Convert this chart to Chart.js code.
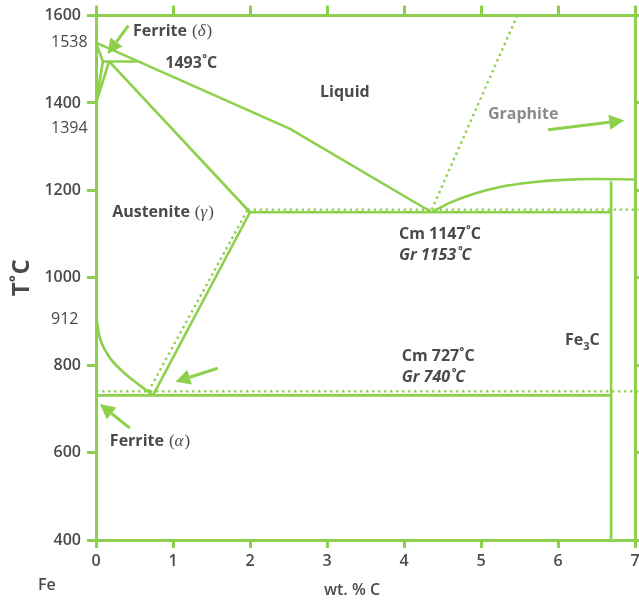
<!DOCTYPE html>
<html><head><meta charset="utf-8">
<script src="https://cdn.jsdelivr.net/npm/chart.js@4/dist/chart.umd.min.js"></script>
<style>html,body{margin:0;padding:0;background:#fff;} #wrap{width:639px;height:604px;position:relative;}</style>
</head><body><div id="wrap"><canvas id="c" width="639" height="604"></canvas></div>
<script>
const GREEN = 'rgb(141,208,76)';
const TXT = '#4a4a4a';
const GREYTXT = '#8a8a8a';

// axis ticks
const tempTicks = [400, 600, 800, 1000, 1200, 1400, 1600];
const carbonTicks = [0, 1, 2, 3, 4, 5, 6, 7];
// extra temperature labels (text, vertical position in °C)
const extraTempText = ['1538', '1394', '912'];
const extraTempPos = [1538, 1342, 905];

// ---- solid phase boundaries (wt.% C, °C) ----
const liquidusC = [0, 2.52, 4.36];
const liquidusT = [1538, 1341, 1150];
const peritecticC = [0.09, 0.53];
const peritecticT = [1495, 1495];
const deltaTopC = [0, 0.09];
const deltaTopT = [1538, 1495];
const deltaLeftC = [0, 0.09];
const deltaLeftT = [1400, 1495];
const deltaRightC = [0, 0.17];
const deltaRightT = [1400, 1495];
const solidusC = [0.17, 2.0];
const solidusT = [1495, 1150];
const eutecticC = [2.0, 6.69];
const eutecticT = [1150, 1150];
const cementiteC = [6.69, 6.69];
const cementiteT = [1221, 400];
const cmLiquidusC = [4.36, 4.6, 4.9, 5.25, 5.64, 6.06, 6.51, 7.0];
const cmLiquidusT = [1150, 1172, 1192, 1208, 1218, 1224, 1226, 1225];
const eutectoidC = [0, 6.69];
const eutectoidT = [731, 731];
const a3C = [0, 0.04, 0.15, 0.35, 0.56, 0.74];
const a3T = [915, 870, 825, 785, 755, 731];
const acmC = [0.74, 2.0];
const acmT = [731, 1150];

// ---- dotted (graphite system) boundaries ----
const grEutecticC = [1.97, 7.05];
const grEutecticT = [1156, 1156];
const grEutectoidC = [0, 7.05];
const grEutectoidT = [740, 740];
const grAcmC = [0.68, 1.97];
const grAcmT = [740, 1156];
const grLiquidusC = [4.36, 5.47];
const grLiquidusT = [1156, 1600];

// ---- arrows (from -> to, in data coords) ----
const arrowFromC = [0.42, 5.87, 1.58, 0.44];
const arrowFromT = [1577, 1339, 793, 656];
const arrowToC = [0.15, 6.86, 1.03, 0.05];
const arrowToT = [1512, 1360, 762, 711];

const zip = (xs, ys) => xs.map((x, i) => ({x: x, y: ys[i]}));

function solid(xs, ys, extra) {
  return Object.assign({data: zip(xs, ys), showLine: true, borderColor: GREEN, borderWidth: 2.6,
    pointRadius: 0, fill: false, tension: 0}, extra || {});
}
function dotted(xs, ys) {
  return {data: zip(xs, ys), showLine: true, borderColor: GREEN, borderWidth: 2.4,
    borderDash: [2.4, 3.6], pointRadius: 0, fill: false, tension: 0,
    clip: {left: 0, top: 0, right: 6, bottom: 0}};
}

const datasets = [
  solid(liquidusC, liquidusT),
  solid(peritecticC, peritecticT),
  solid(deltaTopC, deltaTopT),
  solid(deltaLeftC, deltaLeftT),
  solid(deltaRightC, deltaRightT),
  solid(solidusC, solidusT),
  solid(eutecticC, eutecticT),
  solid(cementiteC, cementiteT),
  solid(cmLiquidusC, cmLiquidusT, {cubicInterpolationMode: 'monotone'}),
  solid(eutectoidC, eutectoidT),
  solid(a3C, a3T, {cubicInterpolationMode: 'monotone'}),
  solid(acmC, acmT),
  dotted(grEutecticC, grEutecticT),
  dotted(grEutectoidC, grEutectoidT),
  dotted(grAcmC, grAcmT),
  dotted(grLiquidusC, grLiquidusT)
];

// ---- text labels ----
const FONT = "'Open Sans', 'DejaVu Sans', sans-serif";
const SERIF = "'Liberation Serif', 'DejaVu Serif', serif";

const annotPlugin = {
  id: 'annot',
  afterDatasetsDraw(chart) {
    const ctx = chart.ctx;
    const sx = chart.scales.x, sy = chart.scales.y;
    const X = v => sx.getPixelForValue(v), Y = v => sy.getPixelForValue(v);
    ctx.save();
    ctx.textBaseline = 'middle';
    function t(str, x, y, font, color, align) {
      ctx.font = font; ctx.fillStyle = color || TXT; ctx.textAlign = align || 'left';
      ctx.fillText(str, x, y);
      return ctx.measureText(str).width;
    }
    const B16 = '700 16px ' + FONT;
    function phase(name, greek, c, T) {
      let x = X(c), y = Y(T);
      x += t(name, x, y, B16) + 5;
      x += t('(', x, y, '400 17px ' + SERIF);
      x += t(greek, x, y, 'italic 400 17px ' + SERIF) + 1;
      t(')', x, y, '400 17px ' + SERIF);
    }
    phase('Ferrite', 'δ', 0.48, 1563);
    phase('Austenite', 'γ', 0.21, 1150);
    phase('Ferrite', 'α', 0.18, 626);
    t('1493˚C', X(0.90), Y(1490), B16);
    t('Liquid', X(2.91), Y(1424), B16);
    t('Graphite', X(5.09), Y(1374), B16, GREYTXT);
    t('Cm 1147˚C', X(3.935), Y(1099), B16);
    t('Gr 1153˚C', X(3.935), Y(1051), 'italic ' + B16);
    t('Cm 727˚C', X(3.97), Y(821), B16);
    t('Gr 740˚C', X(3.97), Y(773), 'italic ' + B16);
    // Fe3C
    let fx = X(6.09), fy = Y(857);
    fx += t('Fe', fx, fy, B16);
    fx += t('3', fx, fy + 7, '700 11px ' + FONT);
    t('C', fx, fy, B16);

    // x tick labels (drawn at the scale's tick positions)
    for (const v of carbonTicks) {
      t(String(v), X(v), sx.top + 21, '600 16px ' + FONT, TXT, 'center');
    }
    // extra temperature labels
    for (let i = 0; i < extraTempText.length; i++) {
      t(extraTempText[i], sx.left - 45, Y(extraTempPos[i]), '400 16px ' + FONT, TXT, 'left');
    }
    // axis titles
    t('Fe', 38, 585, '600 16px ' + FONT);
    t('wt. % C', 352, 590, '600 16px ' + FONT, TXT, 'center');
    ctx.save();
    ctx.translate(22, (chart.chartArea.top + chart.chartArea.bottom) / 2);
    ctx.rotate(-Math.PI / 2);
    t('T˚C', 0, 0, '700 24px ' + FONT, TXT, 'center');
    ctx.restore();

    // arrows
    ctx.strokeStyle = GREEN; ctx.fillStyle = GREEN; ctx.lineWidth = 3;
    for (let i = 0; i < arrowFromC.length; i++) {
      const x1 = X(arrowFromC[i]), y1 = Y(arrowFromT[i]);
      const x2 = X(arrowToC[i]), y2 = Y(arrowToT[i]);
      const a = Math.atan2(y2 - y1, x2 - x1);
      const L = 15, W = 7.5;
      const bx = x2 - L * Math.cos(a), by = y2 - L * Math.sin(a);
      ctx.beginPath(); ctx.moveTo(x1, y1); ctx.lineTo(bx, by); ctx.stroke();
      ctx.beginPath();
      ctx.moveTo(x2, y2);
      ctx.lineTo(bx + W * Math.sin(a), by - W * Math.cos(a));
      ctx.lineTo(bx - W * Math.sin(a), by + W * Math.cos(a));
      ctx.closePath(); ctx.fill();
    }
    ctx.restore();
  }
};

const gridOpt = len => ({drawOnChartArea: false, color: GREEN, lineWidth: 3, tickLength: len});
const borderOpt = {display: true, color: GREEN, width: 3};
const tickFont = {family: FONT, size: 16, weight: '600'};

new Chart(document.getElementById('c'), {
  type: 'scatter',
  data: {datasets: datasets},
  options: {
    responsive: false, animation: false, devicePixelRatio: 1,
    layout: {padding: 0},
    plugins: {legend: {display: false}, tooltip: {enabled: false}},
    scales: {
      x: {type: 'linear', position: 'bottom', min: 0, max: 7,
        afterBuildTicks: s => { s.ticks = carbonTicks.map(v => ({value: v})); },
        ticks: {display: false},
        grid: gridOpt(8), border: borderOpt,
        afterFit: s => { s.height = 64; }},
      xTop: {type: 'linear', position: 'top', min: 0, max: 7,
        afterBuildTicks: s => { s.ticks = carbonTicks.map(v => ({value: v})); },
        ticks: {display: false},
        grid: gridOpt(10), border: borderOpt,
        afterFit: s => { s.height = 15; }},
      y: {type: 'linear', position: 'left', min: 400, max: 1600,
        afterBuildTicks: s => { s.ticks = tempTicks.map(v => ({value: v})); },
        ticks: {font: tickFont, color: TXT, padding: 6, callback: v => String(v)},
        grid: gridOpt(9), border: borderOpt,
        afterFit: s => { s.width = 96; }},
      yRight: {type: 'linear', position: 'right', min: 400, max: 1600,
        afterBuildTicks: s => { s.ticks = tempTicks.map(v => ({value: v})); },
        ticks: {display: false},
        grid: gridOpt(4), border: borderOpt,
        afterFit: s => { s.width = 4; }}
    }
  },
  plugins: [annotPlugin]
});
</script>
</body></html>
